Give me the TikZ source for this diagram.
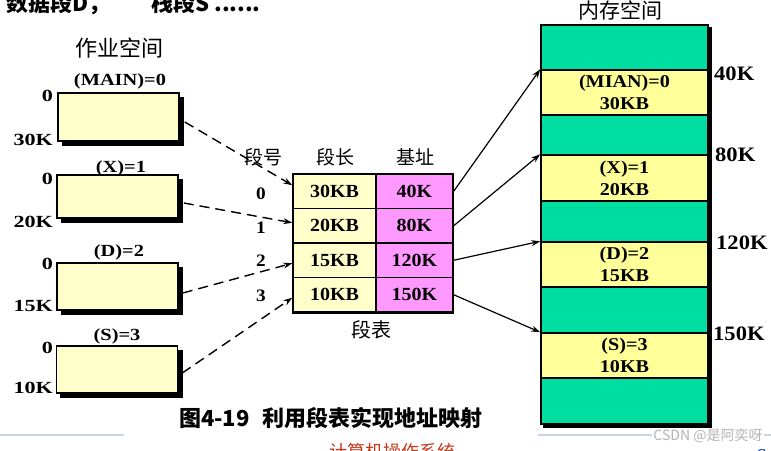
\documentclass[tikz,border=0pt]{standalone}
\usepackage{fontspec}
\usepackage{graphicx}
\setmainfont{Liberation Serif}
\newfontfamily\cjk{Noto Sans CJK SC}
\usetikzlibrary{arrows.meta,calc,backgrounds}
\definecolor{boxyellow}{HTML}{FFFFCC}
\definecolor{memyellow}{HTML}{FFFF99}
\definecolor{memgreen}{HTML}{00DDA0}
\definecolor{basepink}{HTML}{FF99FF}
\definecolor{rulegray}{HTML}{C8D6E6}
\definecolor{redtext}{HTML}{C4391C}
\definecolor{wmgray}{HTML}{B4B4B4}
\definecolor{fragblue}{HTML}{1A3FC0}
\newcommand\sx[2]{\scalebox{#1}[1]{#2}}
\begin{document}
\begin{tikzpicture}[x=1pt,y=-1pt,
  jobbox/.style={draw=black, line width=1.6pt, fill=boxyellow, inner sep=0pt, minimum width=121pt},
  shadowfill/.style={fill=black},
  seglbl/.style={inner sep=0pt, font=\fontsize{17}{17}\selectfont\bfseries},
  addrlbl/.style={inner sep=0pt, anchor=east, font=\fontsize{17}{17}\selectfont\bfseries},
  cjklbl/.style={inner sep=0pt, font=\cjk\fontsize{19}{19}\selectfont},
  numlbl/.style={inner sep=0pt, font=\fontsize{17.5}{17.5}\selectfont\bfseries},
  lencell/.style={draw=black, line width=1.4pt, fill=boxyellow, minimum width=83pt, minimum height=34.5pt,
    inner sep=0pt, font=\fontsize{18.5}{18.5}\selectfont\bfseries},
  basecell/.style={lencell, fill=basepink, minimum width=77pt},
  memband/.style={draw=black, line width=1.5pt, fill=memgreen, minimum width=167pt, inner sep=0pt},
  memseg/.style={memband, fill=memyellow, align=center, font=\fontsize{18}{22}\selectfont\bfseries},
  memaddr/.style={inner sep=0pt, anchor=west, font=\fontsize{20.5}{20.5}\selectfont\bfseries},
  dasharrow/.style={line width=1.4pt, dash pattern=on 10pt off 6pt, -{Stealth[length=9pt,width=6pt]}},
  solidarrow/.style={line width=1.2pt, -{Stealth[length=9pt,width=6pt]}}
]
\useasboundingbox (0,0) rectangle (771,450);
\clip (0,0) rectangle (771,450);

% top clipped text
\node[anchor=base west, inner sep=0pt, font=\cjk\bfseries\fontsize{22}{22}\selectfont] (top1) at (6,11) {数据段D，};
\node[anchor=base west, inner sep=0pt, font=\cjk\bfseries\fontsize{22}{22}\selectfont] (top2) at (151,11) {栈段S ......};

% job space
\node[cjklbl, font=\cjk\fontsize{22}{22}\selectfont] (jobtitle) at (119,48) {作业空间};

\node[jobbox, minimum height=48pt] (box0) at (118.5,117) {};
\node[jobbox, minimum height=43pt] (box1) at (117.5,196.5) {};
\node[jobbox, minimum height=47pt] (box2) at (117.5,286.5) {};
\node[jobbox, minimum height=47pt] (box3) at (117,369.5) {};

\node[seglbl] (n0) at (120,81) {\sx{1.2}{(MAIN)=0}};
\node[seglbl] (n1) at (121,168) {\sx{1.2}{(X)=1}};
\node[seglbl] (n2) at (119,252) {\sx{1.2}{(D)=2}};
\node[seglbl] (n3) at (117,336) {\sx{1.2}{(S)=3}};

\node[addrlbl] (a0s) at (53,96) {\sx{1.3}{0}};
\node[addrlbl] (a0e) at (53,139.5) {\sx{1.3}{30K}};
\node[addrlbl] (a1s) at (53,179) {\sx{1.3}{0}};
\node[addrlbl] (a1e) at (53,222) {\sx{1.3}{20K}};
\node[addrlbl] (a2s) at (53,263.5) {\sx{1.3}{0}};
\node[addrlbl] (a2e) at (53,306) {\sx{1.3}{15K}};
\node[addrlbl] (a3s) at (53,347.5) {\sx{1.3}{0}};
\node[addrlbl] (a3e) at (53,388) {\sx{1.3}{10K}};

% segment table
\node[cjklbl] (h0) at (263,157) {段号};
\node[cjklbl] (h1) at (335,157) {段长};
\node[cjklbl] (h2) at (415,157) {基址};

\node[lencell] (len0) at (334.5,191.25) {\sx{1.08}{30KB}};
\node[lencell] (len1) at (334.5,225.75) {\sx{1.08}{20KB}};
\node[lencell] (len2) at (334.5,260.25) {\sx{1.08}{15KB}};
\node[lencell] (len3) at (334.5,294.75) {\sx{1.08}{10KB}};
\node[basecell] (base0) at (414.5,191.25) {\sx{1.08}{40K}};
\node[basecell] (base1) at (414.5,225.75) {\sx{1.08}{80K}};
\node[basecell] (base2) at (414.5,260.25) {\sx{1.08}{120K}};
\node[basecell] (base3) at (414.5,294.75) {\sx{1.08}{150K}};
\draw[line width=2.6pt] (len3.south west) -- (base3.south east);

\node[numlbl] (r0) at (261,193.5) {\sx{1.1}{0}};
\node[numlbl] (r1) at (261,228) {\sx{1.1}{1}};
\node[numlbl] (r2) at (261,261) {\sx{1.1}{2}};
\node[numlbl] (r3) at (261,295.5) {\sx{1.1}{3}};

\node[cjklbl, font=\cjk\fontsize{20}{20}\selectfont] (tabtitle) at (371,330) {段表};

% memory
\node[cjklbl, font=\cjk\fontsize{21}{21}\selectfont] (memtitle) at (620,10.5) {内存空间};
\node[memband, minimum height=399pt] (mem) at (624.5,224.5) {};
\node[memband, minimum height=45pt] (g0) at (624.5,47.5) {};
\node[memseg, minimum height=45pt] (m0) at (624.5,92.5) {\sx{1.12}{(MIAN)=0}\\\sx{1.12}{30KB}};
\node[memband, minimum height=40pt] (g1) at (624.5,135) {};
\node[memseg, minimum height=46pt] (m1) at (624.5,178) {\sx{1.12}{(X)=1}\\\sx{1.12}{20KB}};
\node[memband, minimum height=41pt] (g2) at (624.5,221.5) {};
\node[memseg, minimum height=45pt] (m2) at (624.5,264.5) {\sx{1.12}{(D)=2}\\\sx{1.12}{15KB}};
\node[memband, minimum height=46pt] (g3) at (624.5,310) {};
\node[memseg, minimum height=45pt] (m3) at (624.5,355.5) {\sx{1.12}{(S)=3}\\\sx{1.12}{10KB}};
\node[memband, minimum height=46pt] (g4) at (624.5,401) {};

\node[memaddr] (k40) at (714,74) {\sx{1.1}{40K}};
\node[memaddr] (k80) at (715,155) {\sx{1.1}{80K}};
\node[memaddr] (k120) at (716,242.5) {\sx{1.1}{120K}};
\node[memaddr] (k150) at (713,333.5) {\sx{1.1}{150K}};

% shadows behind boxes
\begin{pgfonlayer}{background}
\fill[white] (0,0) rectangle (771,450);
\foreach \b in {box0,box1,box2,box3}{
  \fill[shadowfill] ($(\b.north west)+(4.5,4.5)$) rectangle ($(\b.south east)+(4.5,4.5)$);
}
\fill[shadowfill] ($(mem.north west)+(3,3)$) rectangle ($(mem.south east)+(3,3)$);
\end{pgfonlayer}

% dashed arrows job space -> segment table
\draw[dasharrow] ($(box0.east)+(5,5)$) -- ($(len0.west)+(0,-6)$);
\draw[dasharrow] ($(box1.east)+(5,6.5)$) -- ($(len1.west)+(0,-3)$);
\draw[dasharrow] ($(box2.east)+(4,6.5)$) -- ($(len2.west)+(0,3)$);
\draw[dasharrow] ($(box3.east)+(4,3.5)$) -- ($(len3.west)+(0,3)$);

% solid arrows segment table -> memory
\draw[solidarrow] (base0.east) -- (m0.north west);
\draw[solidarrow] (base1.east) -- (m1.north west);
\draw[solidarrow] (base2.east) -- (m2.north west);
\draw[solidarrow] (base3.east) -- (m3.north west);

% caption
\node[inner sep=0pt, font=\cjk\bfseries\fontsize{22}{22}\selectfont] (caption) at (331,418) {图4-19\hspace{0.6em}利用段表实现地址映射};

% page decorations
\draw[rulegray, line width=1.2pt] (0,435) -- (124,435);
\draw[rulegray, line width=1.2pt] (538,435) -- (771,435);
\node[inner sep=1pt, fill=white, text=wmgray, font=\cjk\fontsize{14}{14}\selectfont] (wm) at (708,436) {CSDN @是阿奕呀};
\node[anchor=base, inner sep=0pt, text=redtext, font=\cjk\fontsize{18}{18}\selectfont] (footer) at (392,458) {计算机操作系统};
\node[anchor=base west, inner sep=0pt, text=fragblue, font=\bfseries\itshape\fontsize{18}{18}\selectfont] (frag) at (756,461) {S};
\end{tikzpicture}
\end{document}
